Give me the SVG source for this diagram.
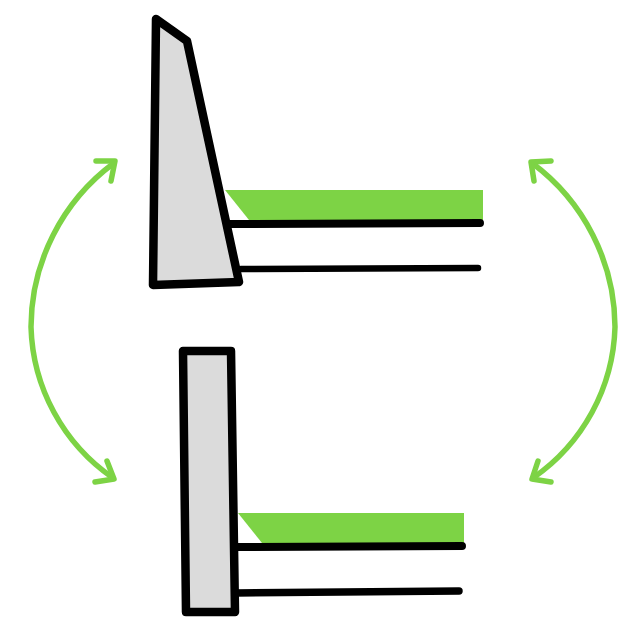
<svg xmlns="http://www.w3.org/2000/svg" width="620" height="618" viewBox="0 0 620 618">
<style>
.g{fill:#7dd345;stroke:none}
.p{fill:#dbdbdb;stroke:#000;stroke-width:8.5;stroke-linejoin:round}
.l{fill:none;stroke:#000;stroke-linecap:round}
.a{fill:none;stroke:#7dd345;stroke-width:5.5;stroke-linecap:round;stroke-linejoin:round}
</style>
<rect width="620" height="618" fill="#fff"/>
<g id="top-part">
<polygon class="g" points="225,190 483,190 483,220 249,220"/>
<path class="l" stroke-width="8" d="M230 224L480 223"/>
<path class="l" stroke-width="6.5" d="M241 269L478 268"/>
<polygon class="p" points="156,19 187,41 239,282 153,285"/>
</g>
<g id="bottom-part">
<polygon class="g" points="238,513 464,513 464,543 262,543"/>
<path class="l" stroke-width="8" d="M236 547L462 546"/>
<path class="l" stroke-width="7.5" d="M236 593L459 591"/>
<polygon class="p" points="183,351 231,351 235,612 186,612"/>
</g>
<g id="connectors">
<path class="a" d="M114 163A205 205 0 0 0 31 327A190 190 0 0 0 113 478"/>
<path class="a" d="M96 161L115 161L111 181"/>
<path class="a" d="M107 461L114 479L95 482"/>
<path class="a" d="M532 163A205 205 0 0 1 615 327A190 190 0 0 1 533 478"/>
<path class="a" d="M551 161L531 162L534 181"/>
<path class="a" d="M538 461L532 479L551 482"/>
</g>
</svg>
